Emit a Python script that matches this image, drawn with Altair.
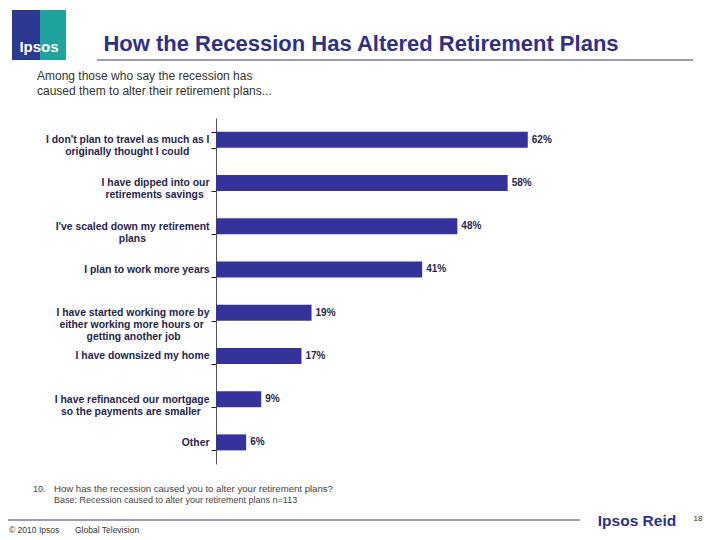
import altair as alt
import pandas as pd

categories = [
    "I don't plan to travel as much as I|originally thought I could",
    "I have dipped into our|retirements savings",
    "I've scaled down my retirement|plans",
    "I plan to work more years",
    "I have started working more by|either working more hours or|getting another job",
    "I have downsized my home",
    "I have refinanced our mortgage|so the payments are smaller",
    "Other",
]
values = [62, 58, 48, 41, 19, 17, 9, 6]
labels = ["62%", "58%", "48%", "41%", "19%", "17%", "9%", "6%"]

# approximate Arial/Liberation Sans Bold advance widths (per 1000 em) used to
# centre the lines of each right-aligned multi-line label, as in the original
_W = {" ": 278, "'": 238, ".": 278, "I": 278, "O": 778}
_W.update(dict(zip("abcdefghijklmnopqrstuvwxyz",
                   [556, 611, 556, 611, 556, 333, 611, 611, 278, 278, 556, 278, 889,
                    611, 611, 611, 611, 389, 556, 333, 611, 556, 778, 556, 556, 500])))


def _width(s):
    return sum(_W.get(c, 556) for c in s)


def centre_lines(label):
    lines = label.split("|")
    mw = max(_width(l) for l in lines)
    out = []
    for l in lines:
        n = int(round((mw - _width(l)) / 2 / 278))
        out.append(l + "\u200b\u00a0" * n + ("\u200b" if n else ""))
    return "|".join(out)


display = {c: centre_lines(c) for c in categories}

df = pd.DataFrame({"cat": categories, "val": values, "lab": labels})
df["disp"] = df["cat"].map(display)
order = [display[c] for c in categories]

NAVY = "#2E3184"
BAR = "#333399"
FONT = "Liberation Sans"

# origin of plot area on page: (216, 118)
OX, OY = 216, 118
W, H = 352, 346

base = alt.Chart(df)
y_axis = alt.Axis(
    labelExpr="split(datum.label, '|')",
    labelFont=FONT,
    labelFontSize=10.4,
    labelFontWeight="bold",
    labelColor="#262650",
    labelLineHeight=12,
    labelPadding=2,
    ticks=True,
    tickBand="extent",
    tickSize=5,
    tickWidth=1,
    tickColor="#222222",
    tickOpacity=1,
    domainColor="#555555",
    labelBound=False,
    labelLimit=300,
)
y_enc = alt.Y(
    "disp:N",
    sort=order,
    title=None,
    scale=alt.Scale(paddingInner=0.63, paddingOuter=0.315),
    axis=y_axis,
)
x_enc = alt.X("val:Q", scale=alt.Scale(domain=[0, 70]), axis=None)

bars = base.mark_bar(color=BAR, size=16).encode(x=x_enc, y=y_enc)
vals = base.mark_text(
    align="left", dx=4, font=FONT, fontSize=10, fontWeight="bold", color="#262650"
).encode(x=x_enc, y=y_enc, text="lab:N")


def one():
    return alt.Chart(alt.Data(values=[{}]))


def txt(s, px, py, size, color="#333333", weight="normal", align="left"):
    return one().mark_text(
        text=s, font=FONT, fontSize=size, fontWeight=weight, color=color,
        align=align, baseline="middle",
    ).encode(x=alt.value(px - OX), y=alt.value(py - OY))


def hline(x1, x2, py, color, w=1):
    return one().mark_rule(color=color, strokeWidth=w).encode(
        x=alt.value(x1 - OX), x2=alt.value(x2 - OX), y=alt.value(py - OY)
    )


def rect(x1, x2, y1, y2, color):
    return one().mark_rect(color=color).encode(
        x=alt.value(x1 - OX), x2=alt.value(x2 - OX),
        y=alt.value(y1 - OY), y2=alt.value(y2 - OY),
    )


layers = [
    rect(12, 66, 10, 60, "#2B3990"),
    rect(40, 66, 10, 60, "#1FA39C"),
    txt("Ipsos", 39, 47, 15, "#FFFFFF", "bold", "center"),
    txt("How the Recession Has Altered Retirement Plans", 361, 44, 22, NAVY, "bold", "center"),
    hline(97, 693, 60, "#3A3A6A"),
    txt("Among those who say the recession has", 37, 76, 12, "#333333"),
    txt("caused them to alter their retirement plans...", 37, 91, 12, "#333333"),
    bars,
    vals,
    txt("10.", 33, 489, 9, "#444444"),
    txt("How has the recession caused you to alter your retirement plans?", 54, 489, 9.6, "#444444"),
    txt("Base:  Recession caused to alter your retirement plans n=113", 54, 500, 9, "#444444"),
    hline(0, 580, 520, "#3A3A6A"),
    txt("Ipsos Reid", 637, 521, 15.5, NAVY, "bold", "center"),
    txt("18", 698, 519, 8, "#333333", "normal", "center"),
    txt("\u00a9 2010 Ipsos", 9, 530, 8.5, "#333333"),
    txt("Global Television", 75, 530, 8.5, "#333333"),
]

chart = alt.layer(*layers).properties(
    width=W,
    height=H,
    autosize=alt.AutoSizeParams(type="none"),
    padding={"left": OX - 8, "top": OY - 8, "right": 712 - OX - W, "bottom": 540 - OY - H},
    background="#FFFFFF",
).configure_view(stroke=None)

chart.save("out.html", embed_options={"renderer": "svg", "actions": False})
